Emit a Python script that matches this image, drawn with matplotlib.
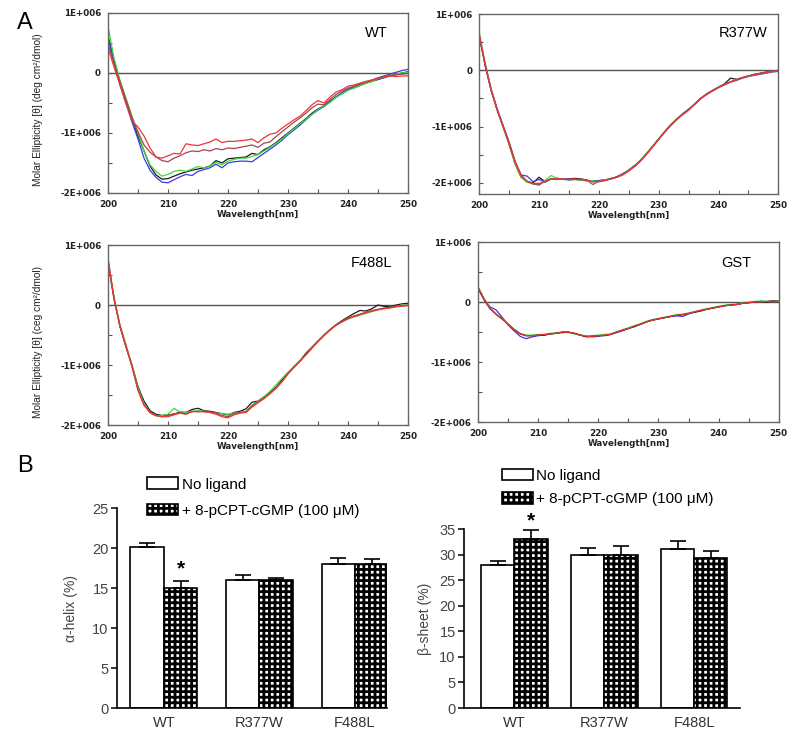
import numpy as np
import matplotlib
matplotlib.use("Agg")
import matplotlib.pyplot as plt

plt.rcParams['font.family'] = ['Liberation Sans', 'DejaVu Sans']
plt.rcParams['hatch.linewidth'] = 2.0

# ---- CD spectra (units of 1E+006 deg cm2/dmol), 200..250 nm every 1 nm ----
WL = list(range(200, 251))

WT_BLACK = [0.62, 0.20, -0.15, -0.45, -0.75, -1.05, -1.30, -1.55, -1.70, -1.77,
            -1.76, -1.72, -1.68, -1.65, -1.62, -1.60, -1.58, -1.55, -1.46, -1.50,
            -1.43, -1.42, -1.41, -1.40, -1.34, -1.36, -1.28, -1.23, -1.16, -1.08,
            -1.00, -0.92, -0.84, -0.76, -0.67, -0.60, -0.55, -0.47, -0.40, -0.34,
            -0.28, -0.25, -0.21, -0.17, -0.14, -0.11, -0.08, -0.05, -0.03, 0.00,
            0.02]
WT_BLUE = [0.60, 0.18, -0.20, -0.50, -0.82, -1.10, -1.42, -1.62, -1.74, -1.82,
           -1.83, -1.78, -1.73, -1.69, -1.71, -1.64, -1.61, -1.58, -1.52, -1.58,
           -1.50, -1.48, -1.47, -1.47, -1.48, -1.41, -1.34, -1.27, -1.20, -1.12,
           -1.03, -0.95, -0.87, -0.78, -0.69, -0.62, -0.56, -0.48, -0.40, -0.33,
           -0.27, -0.23, -0.19, -0.15, -0.12, -0.08, -0.05, -0.02, 0.01, 0.04,
           0.06]
WT_GREEN = [0.78, 0.25, -0.12, -0.42, -0.72, -1.00, -1.30, -1.53, -1.64, -1.72,
            -1.69, -1.64, -1.62, -1.64, -1.60, -1.56, -1.58, -1.55, -1.49, -1.53,
            -1.47, -1.44, -1.42, -1.42, -1.39, -1.36, -1.30, -1.24, -1.17, -1.10,
            -1.01, -0.93, -0.85, -0.77, -0.69, -0.61, -0.56, -0.49, -0.41, -0.35,
            -0.29, -0.25, -0.21, -0.17, -0.14, -0.10, -0.07, -0.04, -0.02, 0.00,
            0.01]
WT_BROWN = [0.50, 0.15, -0.15, -0.45, -0.75, -0.98, -1.20, -1.32, -1.40, -1.46,
            -1.48, -1.42, -1.38, -1.33, -1.30, -1.31, -1.28, -1.30, -1.26, -1.28,
            -1.25, -1.26, -1.24, -1.22, -1.20, -1.24, -1.17, -1.15, -1.06, -0.98,
            -0.90, -0.82, -0.75, -0.67, -0.58, -0.52, -0.53, -0.44, -0.36, -0.30,
            -0.25, -0.22, -0.18, -0.15, -0.12, -0.09, -0.07, -0.04, -0.03, -0.02,
            -0.01]
WT_RED = [0.42, 0.10, -0.20, -0.52, -0.80, -0.90, -1.05, -1.25, -1.40, -1.42,
          -1.38, -1.34, -1.35, -1.18, -1.20, -1.21, -1.18, -1.15, -1.10, -1.16,
          -1.14, -1.14, -1.13, -1.12, -1.10, -1.16, -1.08, -1.02, -1.00, -0.92,
          -0.85, -0.78, -0.72, -0.63, -0.53, -0.46, -0.50, -0.40, -0.32, -0.28,
          -0.22, -0.20, -0.17, -0.14, -0.12, -0.09, -0.07, -0.05, -0.06, -0.05,
          -0.05]

R_BLACK = [0.62, 0.08, -0.36, -0.71, -1.00, -1.32, -1.66, -1.90, -1.98, -2.00,
           -1.90, -1.98, -1.93, -1.92, -1.94, -1.93, -1.92, -1.93, -1.95, -1.98,
           -1.96, -1.95, -1.93, -1.89, -1.84, -1.77, -1.69, -1.60, -1.48, -1.35,
           -1.22, -1.10, -0.98, -0.87, -0.78, -0.70, -0.60, -0.50, -0.43, -0.36,
           -0.30, -0.24, -0.14, -0.16, -0.13, -0.10, -0.07, -0.05, -0.03, -0.02,
           0.00]
R_BLUE = [0.60, 0.12, -0.33, -0.68, -0.98, -1.28, -1.62, -1.86, -1.88, -1.98,
          -1.94, -1.99, -1.93, -1.92, -1.93, -1.93, -1.94, -1.95, -1.96, -1.96,
          -1.96, -1.95, -1.92, -1.90, -1.84, -1.78, -1.70, -1.60, -1.48, -1.35,
          -1.22, -1.09, -0.97, -0.87, -0.77, -0.69, -0.60, -0.50, -0.42, -0.36,
          -0.30, -0.25, -0.21, -0.18, -0.14, -0.11, -0.09, -0.07, -0.05, -0.03,
          -0.02]
R_GREEN = [0.68, 0.12, -0.34, -0.70, -1.02, -1.30, -1.67, -1.90, -1.99, -2.02,
           -2.03, -1.96, -1.87, -1.92, -1.94, -1.95, -1.94, -1.95, -1.97, -1.96,
           -1.98, -1.95, -1.93, -1.90, -1.85, -1.77, -1.70, -1.59, -1.47, -1.35,
           -1.22, -1.09, -0.97, -0.86, -0.78, -0.70, -0.60, -0.50, -0.42, -0.36,
           -0.30, -0.25, -0.21, -0.17, -0.13, -0.10, -0.08, -0.06, -0.04, -0.02,
           0.00]
R_BROWN = [0.64, 0.10, -0.36, -0.70, -1.00, -1.28, -1.62, -1.86, -1.97, -2.02,
           -2.04, -1.97, -1.93, -1.94, -1.93, -1.95, -1.94, -1.94, -1.95, -2.03,
           -1.97, -1.96, -1.93, -1.90, -1.85, -1.78, -1.70, -1.60, -1.48, -1.35,
           -1.22, -1.09, -0.97, -0.87, -0.78, -0.70, -0.60, -0.50, -0.42, -0.36,
           -0.30, -0.25, -0.20, -0.17, -0.13, -0.10, -0.08, -0.06, -0.04, -0.02,
           0.00]
R_RED = [0.63, 0.09, -0.35, -0.70, -1.00, -1.30, -1.64, -1.88, -1.97, -2.01,
         -2.01, -1.98, -1.93, -1.93, -1.93, -1.94, -1.93, -1.94, -1.96, -1.98,
         -1.98, -1.96, -1.93, -1.90, -1.86, -1.79, -1.71, -1.61, -1.49, -1.36,
         -1.23, -1.10, -0.98, -0.88, -0.79, -0.71, -0.61, -0.51, -0.43, -0.37,
         -0.31, -0.26, -0.21, -0.17, -0.13, -0.10, -0.08, -0.06, -0.04, -0.02,
         0.00]

F_BLACK = [0.70, 0.10, -0.36, -0.70, -1.00, -1.36, -1.60, -1.76, -1.82, -1.84,
           -1.83, -1.82, -1.78, -1.79, -1.74, -1.72, -1.76, -1.77, -1.79, -1.81,
           -1.83, -1.79, -1.77, -1.73, -1.62, -1.60, -1.53, -1.45, -1.37, -1.25,
           -1.13, -1.03, -0.93, -0.80, -0.70, -0.60, -0.50, -0.41, -0.33, -0.26,
           -0.20, -0.14, -0.09, -0.10, -0.06, 0.00, -0.02, -0.03, 0.00, 0.02,
           0.03]
F_GREEN = [0.72, 0.14, -0.33, -0.66, -1.00, -1.38, -1.64, -1.80, -1.85, -1.84,
           -1.82, -1.72, -1.78, -1.79, -1.77, -1.76, -1.77, -1.79, -1.80, -1.81,
           -1.82, -1.80, -1.79, -1.77, -1.67, -1.60, -1.53, -1.44, -1.33, -1.22,
           -1.12, -1.02, -0.92, -0.82, -0.71, -0.61, -0.51, -0.41, -0.33, -0.28,
           -0.23, -0.20, -0.17, -0.14, -0.11, -0.08, -0.06, -0.04, -0.02, 0.00,
           0.00]
F_BROWN = [0.78, 0.11, -0.35, -0.69, -1.03, -1.42, -1.66, -1.79, -1.84, -1.86,
           -1.84, -1.81, -1.80, -1.82, -1.77, -1.78, -1.77, -1.78, -1.80, -1.84,
           -1.86, -1.81, -1.79, -1.78, -1.68, -1.61, -1.55, -1.46, -1.38, -1.27,
           -1.14, -1.03, -0.93, -0.82, -0.71, -0.60, -0.50, -0.41, -0.33, -0.27,
           -0.22, -0.18, -0.15, -0.12, -0.09, -0.07, -0.05, -0.04, -0.02, -0.01,
           0.00]
F_RED = [0.76, 0.12, -0.35, -0.68, -1.02, -1.42, -1.67, -1.79, -1.84, -1.86,
         -1.86, -1.83, -1.80, -1.81, -1.78, -1.77, -1.78, -1.79, -1.82, -1.86,
         -1.88, -1.83, -1.80, -1.79, -1.70, -1.63, -1.56, -1.48, -1.39, -1.28,
         -1.15, -1.04, -0.94, -0.83, -0.72, -0.61, -0.51, -0.42, -0.34, -0.28,
         -0.23, -0.19, -0.16, -0.13, -0.10, -0.08, -0.06, -0.05, -0.03, -0.02,
         -0.01]

G_BLUE = [0.24, 0.05, -0.08, -0.13, -0.25, -0.38, -0.48, -0.57, -0.61, -0.58,
          -0.56, -0.55, -0.53, -0.52, -0.51, -0.50, -0.52, -0.55, -0.57, -0.58,
          -0.57, -0.55, -0.54, -0.51, -0.48, -0.44, -0.40, -0.37, -0.33, -0.30,
          -0.28, -0.26, -0.24, -0.23, -0.24, -0.20, -0.16, -0.14, -0.12, -0.10,
          -0.08, -0.06, -0.05, -0.04, -0.02, -0.01, 0.00, 0.01, 0.01, 0.02,
          0.01]
G_GREEN = [0.26, 0.06, -0.10, -0.21, -0.28, -0.36, -0.45, -0.52, -0.55, -0.55,
           -0.54, -0.54, -0.52, -0.51, -0.50, -0.51, -0.53, -0.55, -0.56, -0.56,
           -0.55, -0.54, -0.53, -0.50, -0.46, -0.43, -0.39, -0.36, -0.32, -0.29,
           -0.27, -0.25, -0.23, -0.21, -0.20, -0.18, -0.16, -0.13, -0.11, -0.09,
           -0.07, -0.05, -0.04, -0.03, -0.01, 0.00, 0.01, 0.02, 0.01, 0.02,
           0.02]
G_BLACK = [0.23, 0.04, -0.11, -0.20, -0.28, -0.37, -0.46, -0.53, -0.56, -0.56,
           -0.55, -0.55, -0.53, -0.52, -0.50, -0.50, -0.52, -0.55, -0.58, -0.57,
           -0.56, -0.56, -0.54, -0.50, -0.47, -0.44, -0.41, -0.37, -0.33, -0.30,
           -0.28, -0.26, -0.24, -0.22, -0.21, -0.19, -0.17, -0.15, -0.12, -0.10,
           -0.08, -0.06, -0.05, -0.04, -0.02, -0.01, 0.00, 0.01, 0.00, 0.02,
           0.01]
G_RED = [0.25, 0.05, -0.10, -0.20, -0.27, -0.37, -0.46, -0.53, -0.56, -0.56,
         -0.55, -0.54, -0.53, -0.52, -0.50, -0.50, -0.52, -0.55, -0.57, -0.57,
         -0.56, -0.55, -0.54, -0.50, -0.47, -0.44, -0.40, -0.37, -0.33, -0.30,
         -0.28, -0.26, -0.24, -0.22, -0.21, -0.19, -0.16, -0.14, -0.12, -0.10,
         -0.08, -0.06, -0.05, -0.04, -0.02, -0.01, 0.00, 0.01, 0.01, 0.02,
         0.01]

# ---- secondary structure (%) ----
GROUPS = ['WT', 'R377W', 'F488L']
HELIX_NO = [20.1, 16.0, 18.0]
HELIX_NO_ERR = [0.5, 0.6, 0.75]
HELIX_LIG = [15.0, 16.0, 18.0]
HELIX_LIG_ERR = [0.85, 0.3, 0.65]
SHEET_NO = [28.0, 30.0, 31.1]
SHEET_NO_ERR = [0.8, 1.2, 1.5]
SHEET_LIG = [33.1, 30.0, 29.4]
SHEET_LIG_ERR = [1.8, 1.7, 1.4]

C_BLACK, C_BLUE, C_GREEN = '#1a1a1a', '#3a3aee', '#3cdc3c'
C_BROWN, C_RED = '#a04850', '#f03434'

YLAB = 'Molar Ellipticity [\u03b8] ({} cm\u00b2/dmol)'

fig = plt.figure(figsize=(8, 7.38), dpi=100)


def cd_panel(rect, lines, name, name_xy, ylim=(-2e6, 1e6), ylabel=None):
    ax = fig.add_axes(rect)
    for vals, col in lines:
        ax.plot(WL, np.array(vals) * 1e6, color=col, lw=0.9)
    ax.axhline(0, color='#555555', lw=1.0, zorder=0)
    ax.set_xlim(200, 250)
    ax.set_ylim(*ylim)
    ax.set_xticks(range(200, 251, 10))
    ax.set_xticks(range(205, 250, 10), minor=True)
    ax.set_yticks([1e6, 0, -1e6, -2e6])
    ax.set_yticklabels(['1E+006', '0', '-1E+006', '-2E+006'])
    ax.set_yticks([5e5, -5e5, -1.5e6], minor=True)
    ax.tick_params(which='both', direction='in', length=3, width=0.8,
                   color='#555555', labelcolor='#222222', pad=5)
    for lab in ax.get_xticklabels() + ax.get_yticklabels():
        lab.set_family('DejaVu Sans')
        lab.set_fontweight('bold')
        lab.set_fontsize(6.3)
    for sp in ax.spines.values():
        sp.set_color('#666666')
        sp.set_linewidth(1.0)
    ax.set_xlabel('Wavelength[nm]', fontsize=6.3, fontweight='bold',
                  family='DejaVu Sans', color='#222222', labelpad=1)
    ax.text(name_xy[0], name_xy[1], name, transform=ax.transAxes,
            ha='right', va='center', fontsize=10.5)
    if ylabel:
        ax.set_ylabel(ylabel, fontsize=7.3, color='#222222')
        ax.yaxis.set_label_coords(-0.217, 0.46)
    return ax


cd_panel([0.135, 0.7385, 0.375, 0.244],
         [(WT_BLACK, C_BLACK), (WT_BLUE, C_BLUE), (WT_GREEN, C_GREEN),
          (WT_BROWN, C_BROWN), (WT_RED, C_RED)],
         'WT', (0.933, 0.89), ylabel=YLAB.format('deg'))
cd_panel([0.599, 0.737, 0.374, 0.244],
         [(R_BLACK, C_BLACK), (R_BLUE, C_BLUE), (R_GREEN, C_GREEN),
          (R_BROWN, C_BROWN), (R_RED, C_RED)],
         'R377W', (0.963, 0.894), ylim=(-2.2e6, 1e6))
cd_panel([0.135, 0.424, 0.375, 0.244],
         [(F_BLACK, C_BLACK), (F_GREEN, C_GREEN), (F_BROWN, C_BROWN),
          (F_RED, C_RED)],
         'F488L', (0.947, 0.90), ylabel=YLAB.format('ceg'))
cd_panel([0.5975, 0.428, 0.376, 0.244],
         [(G_BLUE, C_BLUE), (G_GREEN, C_GREEN), (G_BLACK, C_BLACK),
          (G_RED, C_RED)],
         'GST', (0.91, 0.883))


def bar_panel(rect, no, no_err, lig, lig_err, ymax, ylabel, xlim, width,
              leg_anchor, leg_space, label_x, star_off):
    ax = fig.add_axes(rect)
    x = np.arange(len(GROUPS))
    zeros = [0] * len(GROUPS)
    ekw = dict(elinewidth=1.2, capthick=1.2, ecolor='black')
    b1 = ax.bar(x - width / 2, no, width, color='white', edgecolor='black',
                lw=1.2, yerr=[zeros, no_err], capsize=6, error_kw=ekw,
                label='No ligand')
    b2 = ax.bar(x + width / 2, lig, width, color='white', edgecolor='black',
                lw=1.2, hatch='+++', yerr=[zeros, lig_err], capsize=6,
                error_kw=ekw, label='+ 8-pCPT-cGMP (100 \u03bcM)')
    ax.annotate('*', xy=(x[0] + width / 2, lig[0] + lig_err[0]),
                xytext=(0, star_off), textcoords='offset points',
                ha='center', va='center', fontsize=15, fontweight='bold')
    ax.set_xlim(*xlim)
    ax.set_ylim(0, ymax)
    ax.set_yticks(range(0, ymax + 1, 5))
    ax.set_xticks(x)
    ax.set_xticklabels(GROUPS, fontsize=10.5, color='#333333')
    ax.tick_params(axis='x', length=0, pad=6)
    ax.tick_params(axis='y', length=4, width=1.1, labelsize=10.5,
                   labelcolor='#444444', pad=2)
    for s in ['top', 'right']:
        ax.spines[s].set_visible(False)
    for s in ['left', 'bottom']:
        ax.spines[s].set_linewidth(1.2)
    ax.set_ylabel(ylabel, fontsize=10, color='#444444')
    ax.yaxis.set_label_coords(label_x, 0.5)
    ax.legend(handles=[b1, b2], loc='upper left', bbox_to_anchor=leg_anchor,
              bbox_transform=fig.transFigure, frameon=False, fontsize=11,
              handlelength=2.0, handleheight=0.8, handletextpad=0.25,
              labelspacing=leg_space, borderpad=0, borderaxespad=0)
    return ax


bar_panel([0.14625, 0.04065, 0.3375, 0.271], HELIX_NO, HELIX_NO_ERR,
          HELIX_LIG, HELIX_LIG_ERR, 25, '\u03b1-helix (%)', (-0.49, 2.335),
          0.35, (0.184, 0.353), 0.78, -0.144, 9)
bar_panel([0.58, 0.04065, 0.345, 0.2425], SHEET_NO, SHEET_NO_ERR,
          SHEET_LIG, SHEET_LIG_ERR, 35, '\u03b2-sheet (%)', (-0.56, 2.51),
          0.37, (0.6275, 0.365), 0.62, -0.116, 6)

fig.text(0.021, 1 - 23 / 738, 'A', fontsize=17, va='center', ha='left')
fig.text(0.021, 1 - 466 / 738, 'B', fontsize=17, va='center', ha='left')

fig.savefig('out.png', dpi=100)
